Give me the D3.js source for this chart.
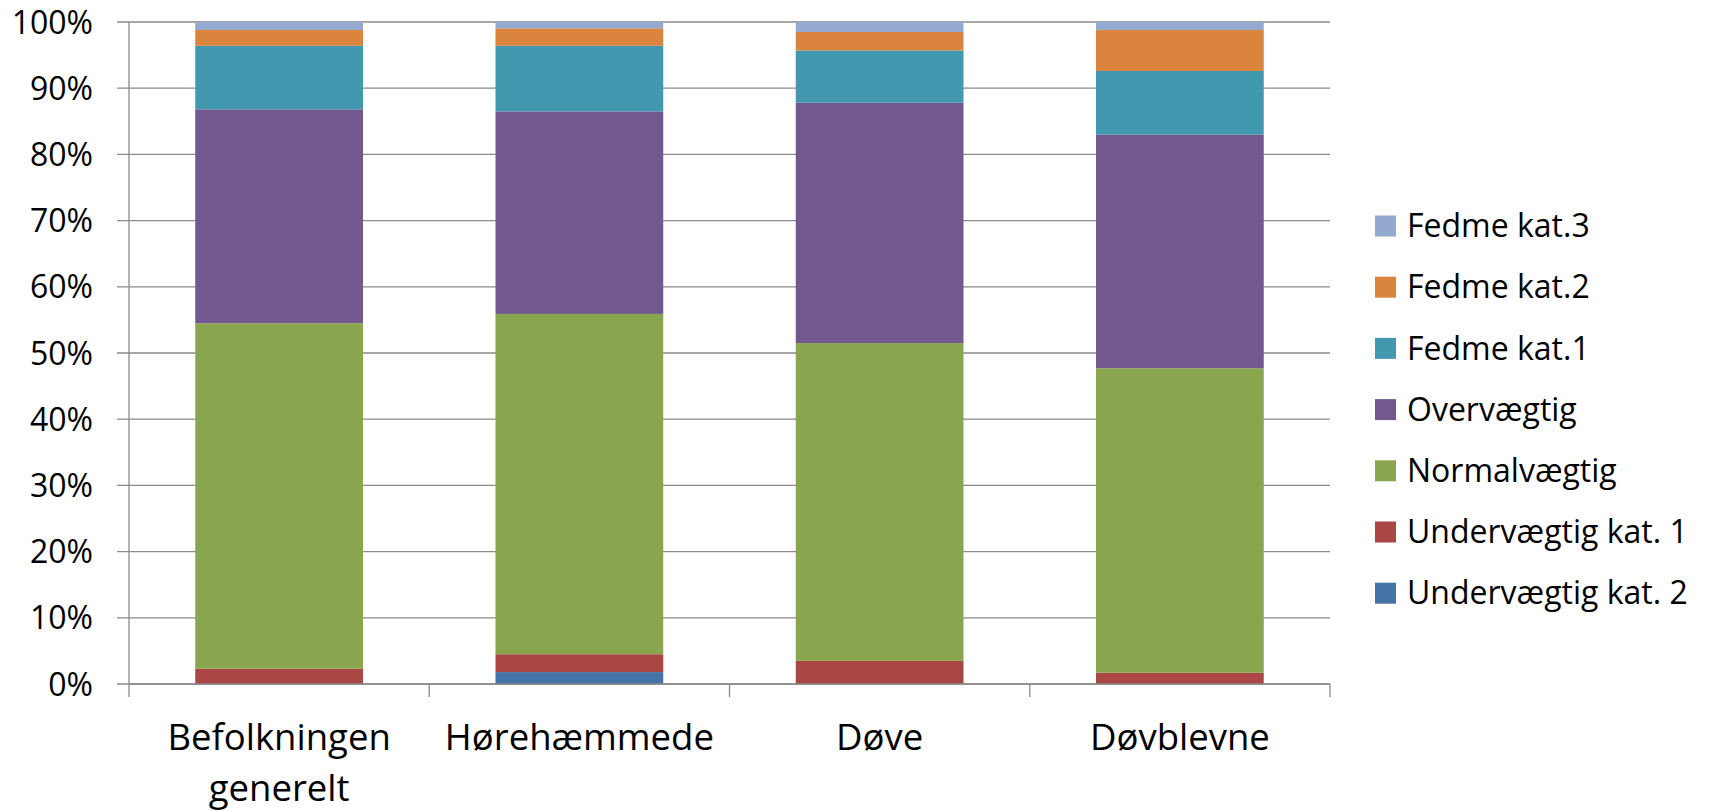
<!DOCTYPE html>
<html><head><meta charset="utf-8">
<script src="https://cdn.jsdelivr.net/npm/d3@7/dist/d3.min.js"></script>
<style>
html,body{margin:0;padding:0;background:#fff;}
svg{display:block;font-family:"Open Sans",Lato,sans-serif;}
</style></head>
<body>
<svg id="chart" width="1713" height="811"></svg>
<script>
const categories = ["Befolkningen generelt", "Hørehæmmede", "Døve", "Døvblevne"];
const seriesNames = ["Undervægtig kat. 2", "Undervægtig kat. 1", "Normalvægtig", "Overvægtig", "Fedme kat.1", "Fedme kat.2", "Fedme kat.3"];
const seriesColors = ["#4572A7", "#AA4643", "#89A54E", "#71588F", "#4198AF", "#DB843D", "#93A9CF"];
const under2 = [0.0, 1.8, 0.0, 0.0];
const under1 = [2.3, 2.7, 3.5, 1.7];
const normal = [52.2, 51.4, 48.0, 46.0];
const over = [32.3, 30.6, 36.3, 35.3];
const fedme1 = [9.6, 9.9, 7.9, 9.6];
const fedme2 = [2.4, 2.65, 2.8, 6.2];
const fedme3 = [1.2, 0.95, 1.5, 1.2];
const yTicks = [0, 10, 20, 30, 40, 50, 60, 70, 80, 90, 100];

(function () {
const seriesValues = [under2, under1, normal, over, fedme1, fedme2, fedme3];
const rows = categories.map((c, i) => {
  const r = {cat: c};
  seriesNames.forEach((s, j) => r[s] = seriesValues[j][i]);
  return r;
});

const svg = d3.select("#chart");
const pLeft = 129, pRight = 1330, pTop = 22, pBottom = 684;

const x = d3.scaleBand().domain(categories).range([pLeft, pRight]).padding(0);
const y = d3.scaleLinear().domain([0, 100]).range([pBottom, pTop]);
const barW = x.bandwidth() / 1.79;

// gridlines
svg.append("g").selectAll("line").data(yTicks).join("line")
  .attr("x1", pLeft - 12).attr("x2", pRight)
  .attr("y1", d => y(d)).attr("y2", d => y(d))
  .attr("stroke", "#8a8a8a").attr("stroke-width", 1.3);

// y tick labels
svg.append("g").selectAll("text").data(yTicks).join("text")
  .attr("x", 93).attr("y", d => y(d)).attr("dy", "0.36em")
  .attr("text-anchor", "end").attr("font-size", 32).attr("fill", "#000")
  .text(d => d + "%");

// bars
const stack = d3.stack().keys(seriesNames)(rows);
svg.append("g").selectAll("g").data(stack).join("g")
  .attr("fill", (d, i) => seriesColors[i])
  .selectAll("rect").data(d => d).join("rect")
  .attr("x", d => x(d.data.cat) + (x.bandwidth() - barW) / 2)
  .attr("width", barW)
  .attr("y", d => y(d[1]))
  .attr("height", d => Math.max(0, y(d[0]) - y(d[1])));

// y axis line
svg.append("line").attr("x1", pLeft).attr("x2", pLeft).attr("y1", pTop).attr("y2", pBottom)
  .attr("stroke", "#8a8a8a").attr("stroke-width", 1.3);
// x axis line
svg.append("line").attr("x1", pLeft).attr("x2", pRight).attr("y1", pBottom).attr("y2", pBottom)
  .attr("stroke", "#8a8a8a").attr("stroke-width", 1.3);
// category ticks
const tickX = categories.map(c => x(c)).concat([pRight]);
svg.append("g").selectAll("line").data(tickX).join("line")
  .attr("x1", d => d).attr("x2", d => d).attr("y1", pBottom).attr("y2", pBottom + 13)
  .attr("stroke", "#8a8a8a").attr("stroke-width", 1.3);

// category labels
const catLines = {"Befolkningen generelt": ["Befolkningen", "generelt"]};
const cl = svg.append("g").selectAll("text").data(categories).join("text")
  .attr("text-anchor", "middle").attr("font-size", 36.5).attr("fill", "#000")
  .attr("x", d => x(d) + x.bandwidth() / 2)
  .attr("y", 750);
cl.selectAll("tspan").data(d => catLines[d] || [d]).join("tspan")
  .attr("x", function() { return d3.select(this.parentNode).attr("x"); })
  .attr("dy", (d, i) => i === 0 ? 0 : 51)
  .text(d => d);

// legend
const legendOrder = seriesNames.map((s, i) => i).reverse();
const lg = svg.append("g").selectAll("g").data(legendOrder).join("g")
  .attr("transform", (d, k) => `translate(1375, ${226 + k * 61.2})`);
lg.append("rect").attr("x", 0).attr("y", -10.5).attr("width", 21).attr("height", 21)
  .attr("fill", d => seriesColors[d]);
lg.append("text").attr("x", 32).attr("y", 0).attr("dy", "0.35em")
  .attr("font-size", 32).attr("fill", "#000").text(d => seriesNames[d]);
})();
</script>
</body></html>
